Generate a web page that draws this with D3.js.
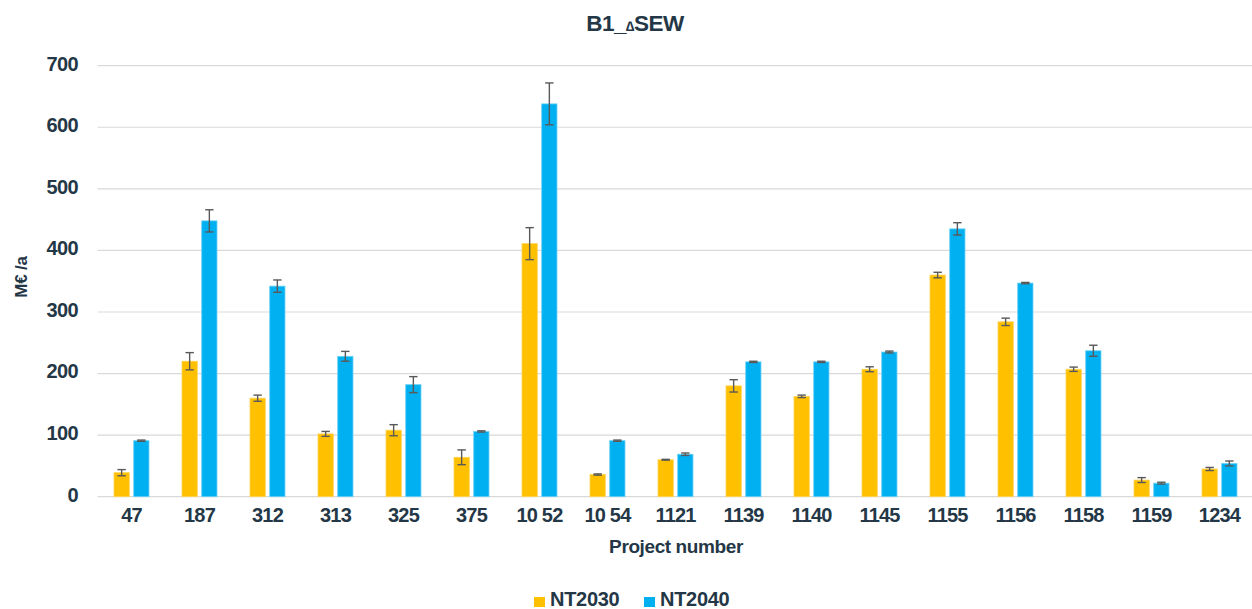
<!DOCTYPE html>
<html>
<head>
<meta charset="utf-8">
<script src="https://cdn.jsdelivr.net/npm/d3@7"></script>
<style>
  html, body { margin: 0; padding: 0; background: #fff; }
  svg text { font-family: "Liberation Sans", Arial, sans-serif; font-weight: bold; fill: #243746; }
</style>
</head>
<body>
<svg id="chart" width="1252" height="609"></svg>
<script>
const categories = ["47","187","312","313","325","375","10 52","10 54","1121","1139","1140","1145","1155","1156","1158","1159","1234"];
const seriesNames = ["NT2030","NT2040"];
const nt2030 = [39, 220, 160, 102, 108, 64, 411, 36, 60, 180, 163, 207, 360, 284, 207, 27, 45];
const nt2040 = [91, 448, 342, 228, 182, 106, 638, 91, 69, 219, 219, 235, 435, 347, 237, 22, 54];
const err2030 = [5, 14, 5, 4, 9, 12, 26, 1, 0.7, 10, 2, 4, 4.5, 6, 3.5, 4, 2.5];
const err2040 = [1, 18, 10, 8, 13, 1, 34, 1, 2, 1, 1, 1.5, 10, 1, 9, 1.5, 4];
const yTicks = [0, 100, 200, 300, 400, 500, 600, 700];
const colors = ["#FFC000", "#00B0F0"];
const strokes = ["#FFD454", "#6ED2F6"];

const svg = d3.select("#chart");
const mLeft = 97.5, mRight = 1253.5, mTop = 65.7, mBottom = 496.7;

const x0 = d3.scaleBand().domain(categories).range([mLeft, mRight]).padding(0);
const x1 = d3.scaleBand().domain(seriesNames).range([0, x0.bandwidth()]).paddingInner(0.223).paddingOuter(0.837);
const y = d3.scaleLinear().domain([0, 700]).range([mBottom, mTop]);

// gridlines
svg.append("g").selectAll("line").data(yTicks).join("line")
  .attr("x1", mLeft).attr("x2", 1252)
  .attr("y1", d => y(d)).attr("y2", d => y(d))
  .attr("stroke", "#d9d9d9").attr("stroke-width", 1.2);

// y axis labels
const yAxis = d3.axisLeft(y).tickValues(yTicks).tickSize(0).tickPadding(0);
const yg = svg.append("g").attr("transform", "translate(78,0)").call(yAxis);
yg.select(".domain").remove();
yg.selectAll("text").attr("font-size", 20).attr("letter-spacing", -0.6).attr("dy", "0.22em")
  .style("font-family", "'Liberation Sans', Arial, sans-serif").style("fill", "#243746").style("font-weight", "bold");

// x axis labels
const xAxis = d3.axisBottom(x0).tickSize(0).tickPadding(0);
const xg = svg.append("g").attr("transform", "translate(0,508)").call(xAxis);
xg.select(".domain").remove();
xg.selectAll("text").attr("font-size", 20).attr("letter-spacing", -0.8).attr("dy", "0.72em")
  .style("font-family", "'Liberation Sans', Arial, sans-serif").style("fill", "#243746").style("font-weight", "bold");

const rows = categories.map((c, i) => ({
  cat: c,
  vals: [
    {s: seriesNames[0], v: nt2030[i], e: err2030[i], k: 0},
    {s: seriesNames[1], v: nt2040[i], e: err2040[i], k: 1}
  ]
}));

const groups = svg.append("g").selectAll("g").data(rows).join("g")
  .attr("transform", d => `translate(${x0(d.cat)},0)`);

groups.selectAll("rect").data(d => d.vals).join("rect")
  .attr("x", d => x1(d.s))
  .attr("y", d => y(d.v))
  .attr("width", x1.bandwidth())
  .attr("height", d => y(0) - y(d.v))
  .attr("fill", d => colors[d.k])
  .attr("stroke", d => strokes[d.k])
  .attr("stroke-width", 0.8);

// error bars
const eb = groups.selectAll("g.eb").data(d => d.vals).join("g").attr("class", "eb");
const cx = d => x1(d.s) + x1.bandwidth() / 2;
eb.append("line")
  .attr("x1", cx).attr("x2", cx)
  .attr("y1", d => y(d.v + d.e)).attr("y2", d => y(d.v - d.e))
  .attr("stroke", "#595959").attr("stroke-width", 1.4);
eb.append("line")
  .attr("x1", d => cx(d) - 4.2).attr("x2", d => cx(d) + 4.2)
  .attr("y1", d => y(d.v + d.e)).attr("y2", d => y(d.v + d.e))
  .attr("stroke", "#595959").attr("stroke-width", 1.4);
eb.append("line")
  .attr("x1", d => cx(d) - 4.2).attr("x2", d => cx(d) + 4.2)
  .attr("y1", d => y(d.v - d.e)).attr("y2", d => y(d.v - d.e))
  .attr("stroke", "#595959").attr("stroke-width", 1.4);

// title
const title = svg.append("text").attr("x", 635).attr("y", 31).attr("text-anchor", "middle")
  .attr("font-size", 22.5).attr("letter-spacing", -0.5);
title.append("tspan").text("B1_");
title.append("tspan").attr("font-size", 14).text("\u2206");
title.append("tspan").text("SEW");

// axis titles
svg.append("text").attr("x", 676).attr("y", 553).attr("text-anchor", "middle")
  .attr("font-size", 19).attr("letter-spacing", -0.4).text("Project number");
svg.append("text").attr("transform", "translate(27,277) rotate(-90)").attr("text-anchor", "middle")
  .attr("font-size", 17).attr("letter-spacing", -0.2).text("M\u20ac /a");

// legend
const legendX = [534, 644];
const lg = svg.append("g").selectAll("g").data(seriesNames).join("g")
  .attr("transform", (d, i) => `translate(${legendX[i]},597)`);
lg.append("rect").attr("width", 11).attr("height", 10).attr("fill", (d, i) => colors[i]);
lg.append("text").attr("x", 16).attr("y", 9).attr("font-size", 20).attr("letter-spacing", -0.3).text(d => d);
</script>
</body>
</html>
